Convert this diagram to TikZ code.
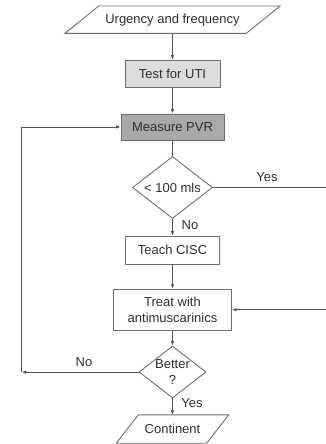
\documentclass[tikz,border=0pt]{standalone}
\usepackage{fontspec}
\setmainfont{Liberation Sans}
\usetikzlibrary{shapes.geometric,arrows.meta,calc}
\definecolor{ink}{HTML}{2E2E2E}
\definecolor{edge}{HTML}{6E6E6E}
\definecolor{wire}{HTML}{555555}
\definecolor{lightfill}{HTML}{DCDCDC}
\definecolor{darkfill}{HTML}{A9A9A9}
\begin{document}
\begin{tikzpicture}[x=1pt,y=-1pt,
  font=\fontsize{13}{16}\selectfont, text=ink,
  box/.style={draw=edge, line width=0.9pt, rectangle, inner sep=0pt, align=center},
  io/.style={inner sep=0pt, align=center},
  outline/.style={draw=edge, line width=0.9pt},
  decision/.style={diamond, draw=edge, line width=0.9pt, inner sep=0pt,
    shape aspect=1.29, align=center},
  wireline/.style={draw=wire, line width=0.8pt},
  link/.style={wireline, -{Latex[length=4.5pt,width=3.6pt]}},
  lbl/.style={text=ink, inner sep=0pt}]
\useasboundingbox (0,0) rectangle (326,444);
\clip (0,0) rectangle (326,444);

% nodes of the main column
\node[io, minimum width=181, minimum height=27] (start) at (172.5,19.7) {Urgency and frequency};
\draw[outline] ($(start.north west)+(17,0)$) -- ($(start.north east)+(17,0)$)
  -- ($(start.south east)+(-17,0)$) -- ($(start.south west)+(-17,0)$) -- cycle;
\node[box, fill=lightfill, minimum width=95, minimum height=27] (uti) at (172.5,73.6) {Test for UTI};
\node[box, fill=darkfill, minimum width=103, minimum height=26] (pvr) at (172.5,127) {Measure PVR};
\node[decision, minimum width=80, minimum height=62] (low) at (172.5,187.5) {< 100 mls};
\node[box, minimum width=94, minimum height=28] (cisc) at (172.5,250) {Teach CISC};
\node[box, minimum width=118, minimum height=41] (treat) at (172.5,309.7) {Treat with\\antimuscarinics};
\node[decision, minimum width=67, minimum height=52] (better) at (172.5,372) {Better\\?};
\node[io, minimum width=90, minimum height=28] (cont) at (172.5,429) {Continent};
\draw[outline] ($(cont.north west)+(11,0)$) -- ($(cont.north east)+(11,0)$)
  -- ($(cont.south east)+(-11,0)$) -- ($(cont.south west)+(-11,0)$) -- cycle;

% loop corners
\coordinate (lb) at (21.7,372);
\coordinate (lt) at (21.7,127);
\coordinate (ra) at (332,187.5);
\coordinate (rb) at (332,309.7);

% main flow
\draw[link] (start.south) -- (uti.north);
\draw[link] (uti.south) -- (pvr.north);
\draw[wireline] (pvr.south) -- (low.north);
\draw[link] (low.south) -- (cisc.north);
\draw[link] (cisc.south) -- (treat.north);
\draw[link] (treat.south) -- (better.north);
\draw[link] (better.south) -- (cont.north);

% feedback paths
\draw[link] (better.west) -- (lb);
\draw[link] (lb) -- (lt) -- (pvr.west);
\draw[link] (low.east) -- (ra) -- (rb) -- (treat.east);

% branch labels
\node[lbl] (yes1) at (267,177) {Yes};
\node[lbl] (no1) at (190,225) {No};
\node[lbl] (no2) at (84,362) {No};
\node[lbl] (yes2) at (192,403.5) {Yes};
\end{tikzpicture}
\end{document}
